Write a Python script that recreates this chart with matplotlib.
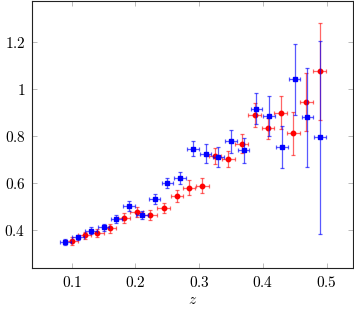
import matplotlib
matplotlib.use("Agg")
import matplotlib.pyplot as plt

plt.rcParams['mathtext.fontset'] = 'cm'
plt.rcParams['font.family'] = 'serif'
plt.rcParams['font.serif'] = ['DejaVu Serif']

# Blue series (squares)
blue_z = [0.090, 0.110, 0.130, 0.150, 0.170, 0.190, 0.210, 0.230, 0.250, 0.270,
          0.290, 0.310, 0.330, 0.350, 0.370, 0.390, 0.410, 0.430, 0.450, 0.470, 0.490]
blue_y = [0.350, 0.369, 0.397, 0.413, 0.448, 0.503, 0.464, 0.532, 0.600, 0.621,
          0.746, 0.725, 0.710, 0.777, 0.739, 0.916, 0.886, 0.752, 1.040, 0.879, 0.794]
blue_yerr = [0.011, 0.012, 0.015, 0.015, 0.017, 0.020, 0.017, 0.022, 0.020, 0.025,
             0.033, 0.040, 0.043, 0.048, 0.052, 0.066, 0.085, 0.090, 0.150, 0.210, 0.410]
blue_zerr = [0.009] * len(blue_z)

# Red series (circles)
red_z = [0.100, 0.120, 0.140, 0.160, 0.182, 0.202, 0.223, 0.244, 0.265, 0.284,
         0.305, 0.325, 0.346, 0.367, 0.387, 0.408, 0.428, 0.448, 0.468, 0.489]
red_y = [0.352, 0.379, 0.388, 0.408, 0.451, 0.478, 0.464, 0.495, 0.545, 0.581,
         0.589, 0.717, 0.702, 0.767, 0.888, 0.832, 0.899, 0.811, 0.943, 1.075]
red_yerr = [0.017, 0.015, 0.017, 0.018, 0.020, 0.020, 0.020, 0.022, 0.024, 0.030,
            0.032, 0.034, 0.034, 0.040, 0.050, 0.044, 0.070, 0.090, 0.123, 0.206]
red_zerr = [0.010] * len(red_z)

xticks = [0.1, 0.2, 0.3, 0.4, 0.5]
xticklabels = ['0.1', '0.2', '0.3', '0.4', '0.5']
yticks = [0.4, 0.6, 0.8, 1.0, 1.2]
yticklabels = ['0.4', '0.6', '0.8', '1', '1.2']

fig = plt.figure(figsize=(3.54, 3.09), dpi=100)
ax = fig.add_axes([0.0913, 0.1317, 0.9067, 0.8641])

ax.errorbar(red_z, red_y, yerr=red_yerr, xerr=red_zerr, fmt='o', color='red',
            ecolor=(1, 0, 0, 0.6), elinewidth=0.9, capsize=1.6, capthick=0.9,
            markersize=3.2, zorder=3)
ax.errorbar(blue_z, blue_y, yerr=blue_yerr, xerr=blue_zerr, fmt='s', color='blue',
            ecolor=(0, 0, 1, 0.65), elinewidth=0.9, capsize=1.6, capthick=0.9,
            markersize=3.4, zorder=4)

ax.set_xlim(0.038, 0.542)
ax.set_ylim(0.238, 1.372)
ax.set_xticks(xticks)
ax.set_xticklabels(['$' + t + '$' for t in xticklabels])
ax.set_yticks(yticks)
ax.set_yticklabels(['$' + t + '$' for t in yticklabels])
ax.tick_params(direction='in', length=3.5, width=0.6, color='#b0b0b0',
               top=True, right=True, labelsize=11, pad=5)
for s in ax.spines.values():
    s.set_linewidth(0.8)
    s.set_color('#222222')
ax.set_xlabel('$z$', fontsize=11, labelpad=2)

fig.savefig('out.png', dpi=100)
